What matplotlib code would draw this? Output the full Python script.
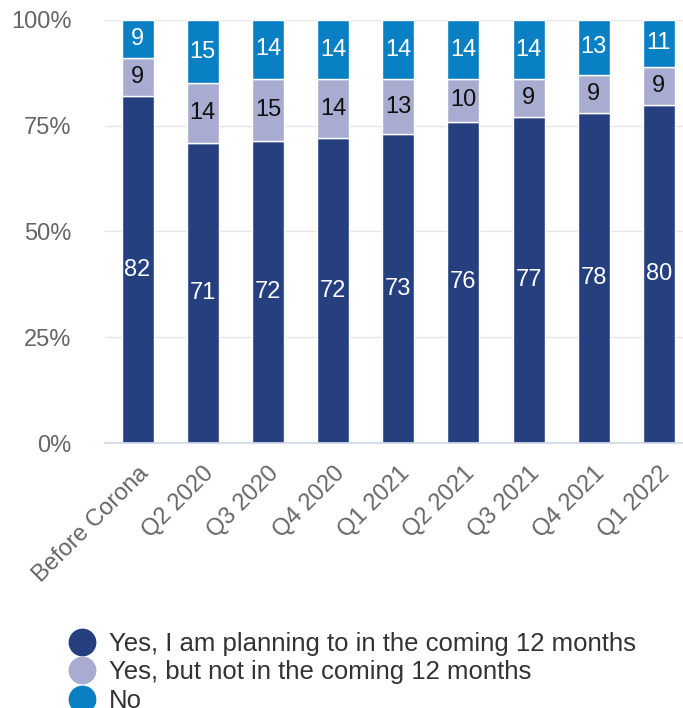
import numpy as np
import matplotlib.pyplot as plt
from matplotlib.lines import Line2D

plt.rcParams['font.family'] = ['Liberation Sans', 'DejaVu Sans']

categories = ["Before Corona", "Q2 2020", "Q3 2020", "Q4 2020", "Q1 2021",
              "Q2 2021", "Q3 2021", "Q4 2021", "Q1 2022"]
yes_planning = [82, 71, 72, 72, 73, 76, 77, 78, 80]
yes_not_now = [9, 14, 15, 14, 13, 10, 9, 9, 9]
no = [9, 15, 14, 14, 14, 14, 14, 13, 11]

series_names = ["Yes, I am planning to in the coming 12 months",
                "Yes, but not in the coming 12 months",
                "No"]
colors = ["#253f7f", "#a7acd0", "#0a80c4"]
label_colors = ["white", "#111111", "white"]

fig = plt.figure(figsize=(6.83, 7.08), dpi=100)
ax = fig.add_axes([105 / 683, 1 - 443 / 708, 1 - 105 / 683, 423 / 708])

x = np.arange(len(categories))
data = np.array([yes_planning, yes_not_now, no], dtype=float)
totals = data.sum(axis=0)
pct = data / totals * 100

# stacked, normalised to 100%
bottom = np.zeros(len(categories))
for i in range(3):
    ax.bar(x, pct[i], 0.49, bottom=bottom, color=colors[i],
           edgecolor="white", linewidth=1, zorder=3)
    for j in range(len(categories)):
        ax.text(x[j], bottom[j] + pct[i][j] / 2, str(int(data[i][j])),
                ha="center", va="center", fontsize=17,
                color=label_colors[i], zorder=4)
    bottom += pct[i]

ax.set_ylim(0, 100)
ax.set_xlim(-0.5, 8.37)
ax.set_yticks([0, 25, 50, 75, 100])
ax.set_yticklabels(["0%", "25%", "50%", "75%", "100%"])
ax.yaxis.grid(True, color="#e6e6e6", linewidth=1, zorder=0)
ax.tick_params(axis="y", length=0, labelsize=17, labelcolor="#666666", pad=24)
ax.tick_params(axis="x", length=0, labelsize=17, labelcolor="#666666", pad=14)
ax.set_xticks(x)
ax.set_xticklabels(categories, rotation=45, ha="right", rotation_mode="anchor")

for side in ["top", "right", "left"]:
    ax.spines[side].set_visible(False)
ax.spines["bottom"].set_color("#ccd6eb")
ax.spines["bottom"].set_linewidth(1.2)
ax.spines["bottom"].set_zorder(5)

handles = [Line2D([], [], marker="o", linestyle="none", markersize=19,
                  markerfacecolor=c, markeredgecolor=c) for c in colors]
fig.legend(handles, series_names, loc="upper left",
           bbox_to_anchor=(56 / 683, 1 - 622 / 708), frameon=False,
           fontsize=18.5, handletextpad=0.45, labelspacing=0.16,
           borderaxespad=0, handlelength=1.2, labelcolor="#333333")

fig.savefig("out.png", dpi=100)
